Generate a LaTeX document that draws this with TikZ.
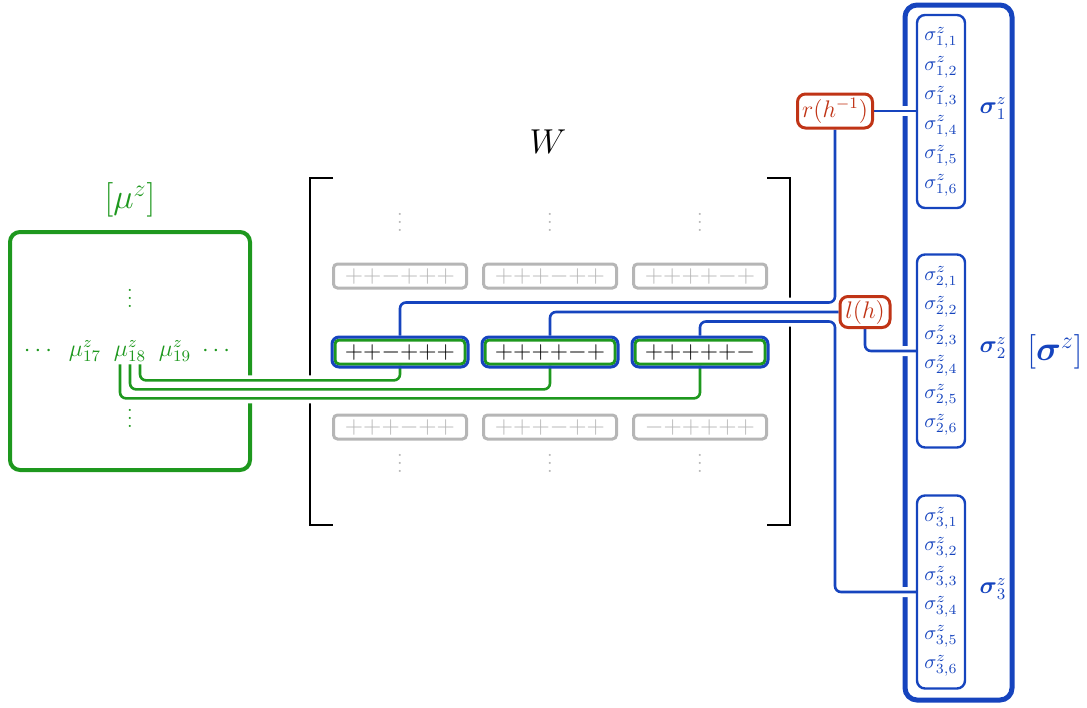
\documentclass[tikz,border=0pt]{standalone}
\usepackage{amsmath}
\usepackage{amssymb}
\usepackage{xcolor}
\usepackage{tikz}
\usetikzlibrary{positioning, fit, calc}
\definecolor{mugreen}{RGB}{30, 152, 30}
\definecolor{sigblue}{RGB}{22, 68, 190}
\definecolor{hred}{RGB}{192, 52, 22}
\definecolor{cellgray}{RGB}{182, 182, 182}
\pgfdeclarelayer{frames}
\pgfdeclarelayer{wires}
\pgfsetlayers{frames,wires,main}

\begin{document}
\begin{tikzpicture}[x=0.5pt, y=-0.5pt,
    cellbox/.style={draw=cellgray, text=cellgray, line width=1.5pt, rounded corners=2pt, minimum width=66.5pt, minimum height=12pt, inner sep=0pt, font=\large},
    hlcell/.style={draw=mugreen, text=black, line width=1.5pt, rounded corners=2pt, minimum width=65pt, minimum height=12pt, inner sep=0pt, font=\large},
    hlring/.style={draw=sigblue, line width=1.5pt, rounded corners=3.5pt, inner sep=0.75pt},
    gdots/.style={text=cellgray, inner sep=0pt},
    mulabel/.style={text=mugreen, inner sep=1pt, anchor=base, font=\large},
    hbox/.style={draw=hred, text=hred, line width=1.5pt, rounded corners=4pt, inner sep=0pt, font=\large},
    sgroup/.style={draw=sigblue, line width=1.2pt, rounded corners=4pt, minimum width=24pt, minimum height=96.5pt},
    sentry/.style={text=sigblue, inner sep=0pt},
    glabel/.style={text=sigblue, inner sep=0pt, font=\large},
    wire/.style={line width=1.3pt, rounded corners=3pt, preaction={draw=white, line width=5pt}},
    gwire/.style={wire, draw=mugreen},
    bwire/.style={wire, draw=sigblue}]
    \useasboundingbox (0,0) rectangle (1087,707);

    \begin{pgfonlayer}{frames}
      \draw[mugreen, line width=2pt, rounded corners=5pt] (10,232) rectangle (250,470);
      \draw[line width=1.2pt] (333,178) -- (310,178) -- (310,525) -- (333,525);
      \draw[line width=1.2pt] (767,178) -- (790,178) -- (790,525) -- (767,525);
      \draw[sigblue, line width=2.5pt, rounded corners=6pt] (905,5) rectangle (1012,700);
    \end{pgfonlayer}

    % mu side
    \node[text=mugreen, font=\LARGE] (mutitle) at (130,200) {$[\mu^z]$};
    \node[text=mugreen, inner sep=0pt] (mutop) at (130,292) {$\vdots$};
    \node[text=mugreen, inner sep=0pt] (mubot) at (130,412) {$\vdots$};
    \node[mulabel] (mleft) at (40,356) {$\cdots$};
    \node[mulabel] (m17) at (85,356) {$\mu^z_{17}$};
    \node[mulabel] (m18) at (130,356) {$\mu^z_{18}$};
    \node[mulabel] (m19) at (175,356) {$\mu^z_{19}$};
    \node[mulabel] (mright) at (218,356) {$\cdots$};

    % matrix W
    \node[font=\LARGE] (wlabel) at (548,142) {$W$};
    \foreach \x [count=\i] in {400,550,700} {
      \node[gdots] (dt\i) at (\x,216) {$\vdots$};
      \node[gdots] (db\i) at (\x,457) {$\vdots$};
    }
    \node[cellbox] (c11) at (400,276) {${+}{+}{-}{+}{+}{+}$};
    \node[cellbox] (c12) at (550,276) {${+}{+}{+}{-}{+}{+}$};
    \node[cellbox] (c13) at (700,276) {${+}{+}{+}{+}{-}{+}$};
    \node[hlcell] (c21) at (400,352) {${+}{+}{-}{+}{+}{+}$};
    \node[hlcell] (c22) at (550,352) {${+}{+}{+}{+}{-}{+}$};
    \node[hlcell] (c23) at (700,352) {${+}{+}{+}{+}{+}{-}$};
    \node[hlring, fit=(c21)] (h1) {};
    \node[hlring, fit=(c22)] (h2) {};
    \node[hlring, fit=(c23)] (h3) {};
    \node[cellbox] (c31) at (400,427) {${+}{+}{+}{-}{+}{+}$};
    \node[cellbox] (c32) at (550,427) {${+}{+}{+}{-}{+}{+}$};
    \node[cellbox] (c33) at (700,427) {${-}{+}{+}{+}{+}{+}$};

    % group actions
    \node[hbox, minimum width=37.5pt, minimum height=17pt] (rnode) at (835,111) {$r(h^{-1})$};
    \node[hbox, minimum width=25pt, minimum height=15.5pt] (lnode) at (865,312) {$l(h)$};

    % sigma side
    \foreach \g/\yc in {1/111.5, 2/351, 3/592} {
      \node[sgroup] (s\g) at (941,\yc) {};
      \foreach \k in {1,...,6}
        \node[sentry] (s\g\k) at (941,{\yc+29.5*(\k-3.5)}) {$\sigma^z_{\g,\k}$};
      \node[glabel] (g\g) at (993,\yc-3) {$\boldsymbol{\sigma}^z_{\g}$};
    }
    \node[text=sigblue, font=\LARGE] (sigtitle) at (1055,352) {$[\boldsymbol{\sigma}^z]$};

    \begin{pgfonlayer}{wires}
      \draw[gwire] ([xshift=5pt]m18.south) -- ++(0,16) -| (c21.south);
      \draw[gwire] (m18.south) -- ++(0,25) -| (c22.south);
      \draw[gwire] ([xshift=-5pt]m18.south) -- ++(0,34) -| (c23.south);
      \draw[bwire] (h1.north) -- ++(0,-33) -| (rnode.south);
      \draw[bwire] (h2.north) |- (lnode.west);
      \draw[bwire] (h3.north) -- ++(0,-14) -| (rnode.south |- s3.west) -- (s3.west);
      \draw[bwire] (lnode.south) |- (s2.west);
      \draw[bwire] (rnode.east) -- (rnode.east -| s1.west);
    \end{pgfonlayer}
\end{tikzpicture}
\end{document}
